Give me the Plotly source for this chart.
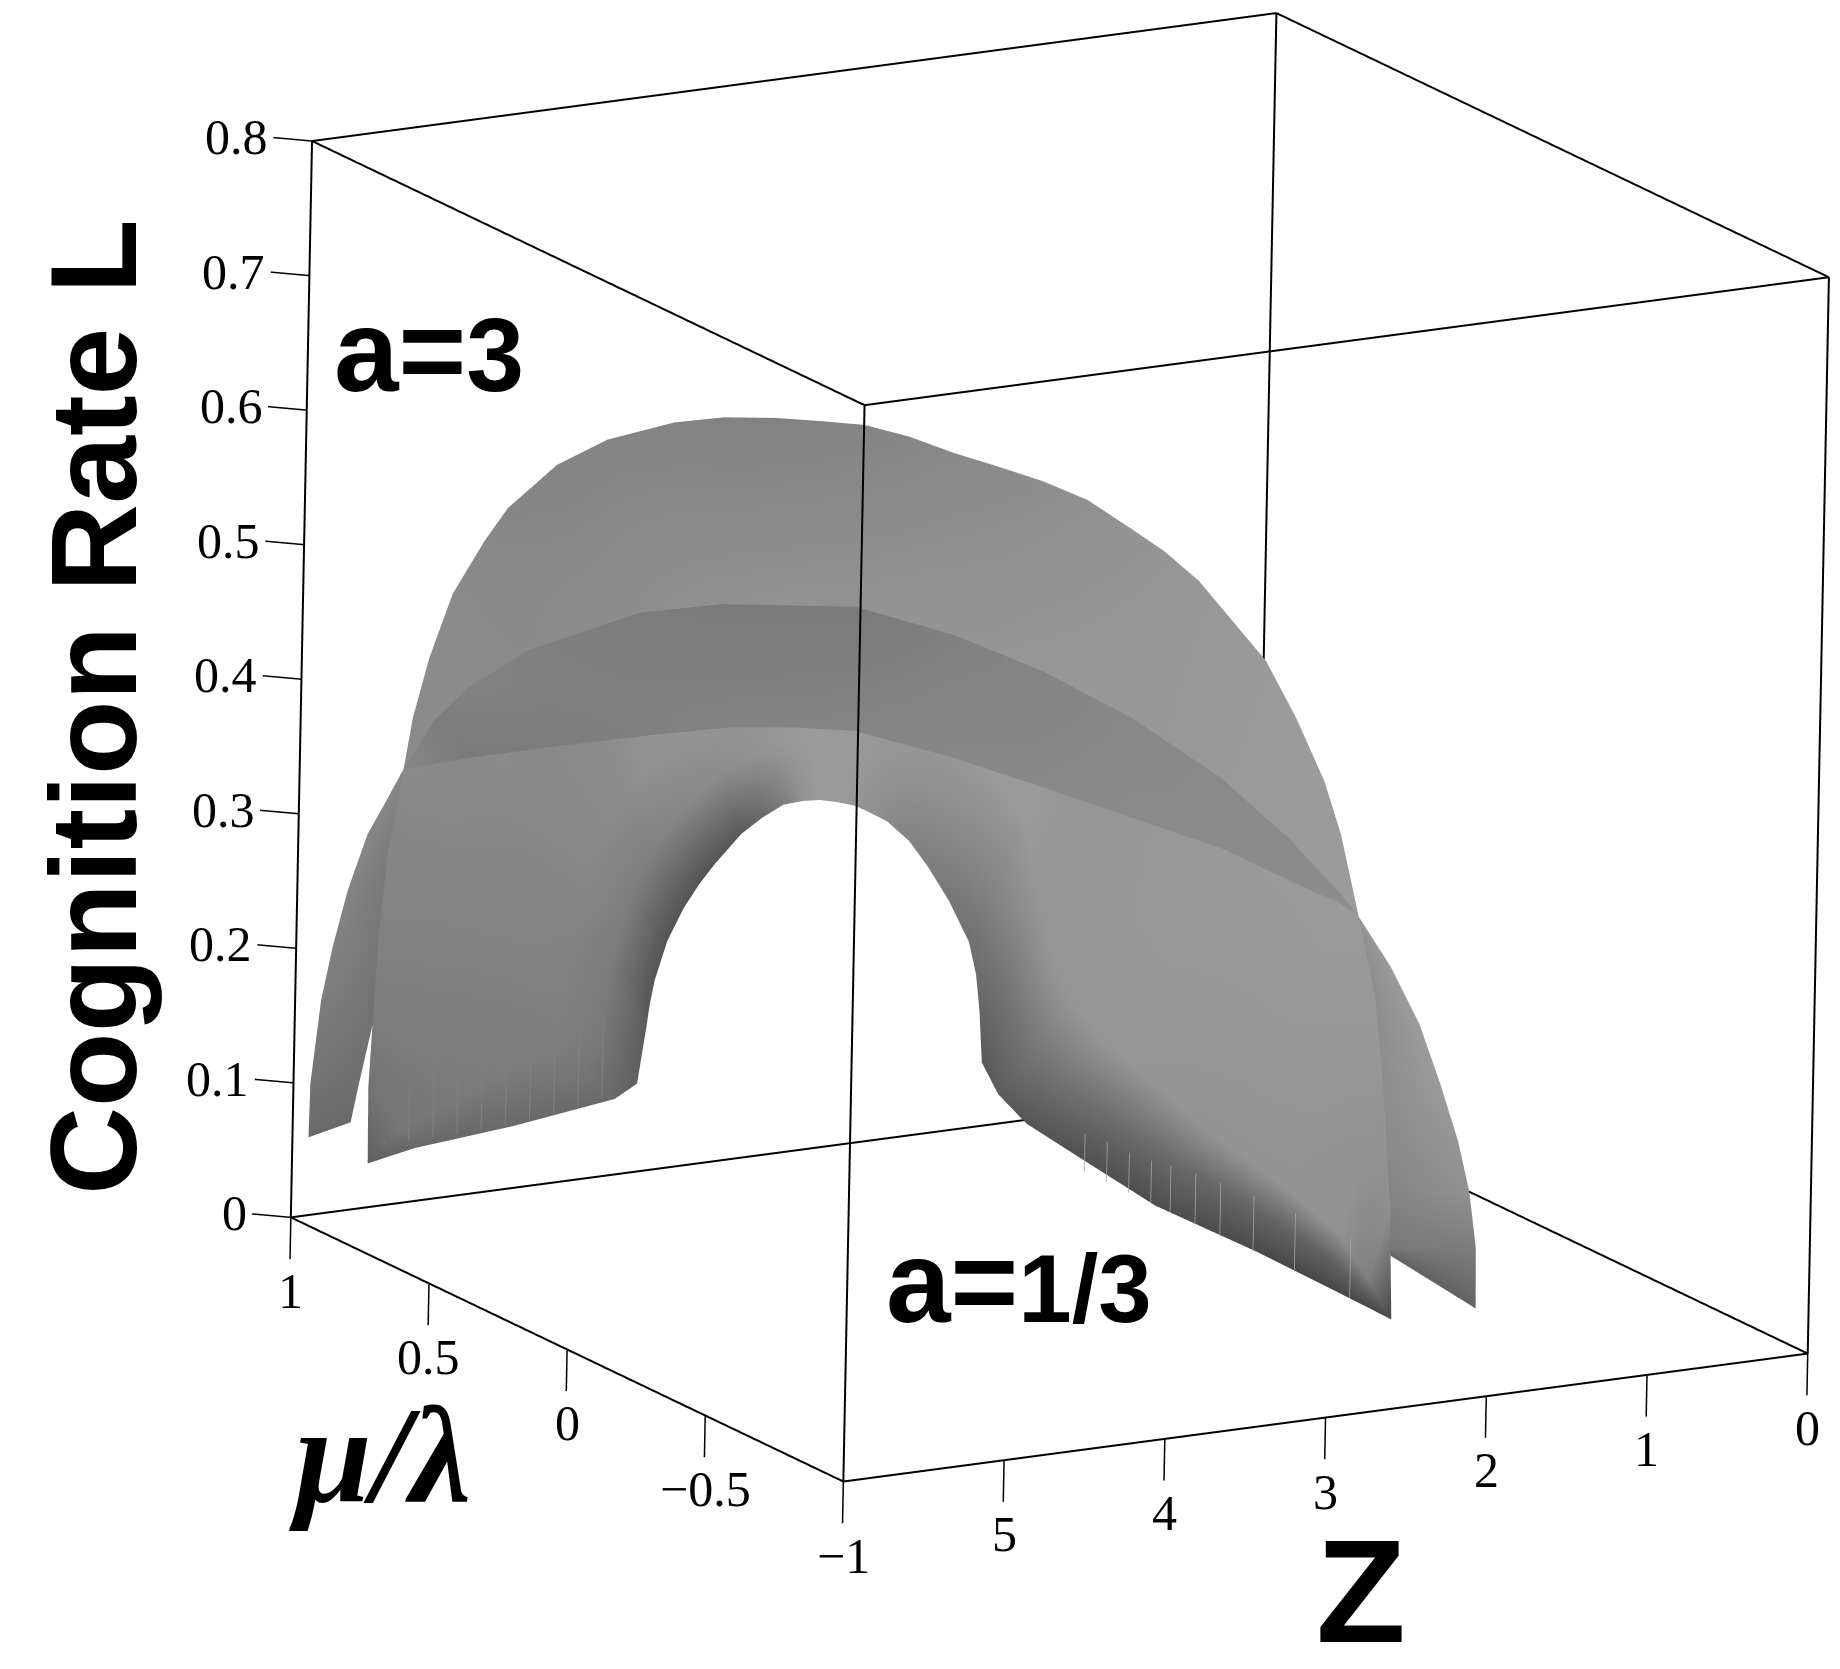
"""
plot.py
- Two cognition rate surfaces L(Z, mu/lambda) in a boxed 3D scene
"""
import plotly.graph_objects as go

# ---------- Axis ticks ----------
z_ticks = [0, 1, 2, 3, 4, 5]
mu_ticks = [-1, -0.5, 0, 0.5, 1]
mu_labels = ["\u22121", "\u22120.5", "0", "0.5", "1"]
l_ticks = [0, 0.1, 0.2, 0.3, 0.4, 0.5, 0.6, 0.7, 0.8]
l_labels = ["0", "0.1", "0.2", "0.3", "0.4", "0.5", "0.6", "0.7", "0.8"]

# ---------- Higher surface: outer rim, two inner bands and inner rim ----------
high_outer_z = [5.771, 5.811, 5.825, 5.834, 5.820, 5.787, 5.787, 5.727, 5.658, 5.536, 5.464, 5.266, 5.059, 4.748, 4.546, 4.328, 4.104, 3.910,
                3.718, 3.524, 3.332, 3.139, 2.945, 2.751, 2.630, 2.501, 2.390, 2.248, 2.190, 2.128, 2.106, 2.098, 2.083, 2.160, 2.275, 2.376]
high_outer_mu = [0.86, 0.84, 0.82, 0.80, 0.78, 0.75, 0.72, 0.70, 0.66, 0.62, 0.58, 0.52, 0.46, 0.40, 0.34, 0.28, 0.24, 0.20,
                 0.15, 0.10, 0.05, 0.00, -0.05, -0.10, -0.15, -0.20, -0.25, -0.30, -0.38, -0.45, -0.50, -0.55, -0.62, -0.70, -0.80, -0.87]
high_outer_l = [0.0502, 0.1094, 0.1639, 0.2278, 0.2915, 0.3541, 0.3956, 0.4408, 0.4915, 0.5327, 0.5599, 0.5949, 0.6162, 0.6299, 0.6364, 0.6384, 0.6363, 0.6344,
                0.6276, 0.6173, 0.6090, 0.6000, 0.5879, 0.5680, 0.5543, 0.5354, 0.5111, 0.4820, 0.4462, 0.4050, 0.3704, 0.3272, 0.2624, 0.2052, 0.1236, 0.0502]
high_outer_shade = [95, 115, 125, 130, 133, 138, 139, 140, 138, 136, 134, 132, 132, 131, 130, 130, 131, 132,
                    134, 137, 139, 141, 144, 147, 149, 151, 152, 153, 155, 155, 155, 155, 152, 150, 145, 72]

high_mid_z = [5.771, 5.533, 5.043, 4.608, 4.507, 4.498, 4.484, 4.447, 4.399, 4.293, 4.207, 4.082, 3.905, 3.721, 3.570, 3.422, 3.279, 3.144,
              3.008, 2.883, 2.778, 2.645, 2.515, 2.374, 2.271, 2.190, 2.156, 2.118, 2.141, 2.148, 2.228, 2.298, 2.275, 2.301, 2.346, 2.376]
high_mid_mu = [0.86, 0.882, 0.911, 0.905, 0.899, 0.869, 0.86, 0.854, 0.828, 0.816, 0.804, 0.786, 0.768, 0.75, 0.732, 0.714, 0.702, 0.69,
               0.675, 0.66, 0.631, 0.602, 0.58, 0.558, 0.529, 0.5575, 0.5375, 0.5175, 0.43, 0.3225, 0.085, -0.145, -0.425, -0.64, -0.77, -0.87]
high_mid_l = [0.0502, 0.0692, 0.0859, 0.1121, 0.1376, 0.1878, 0.2122, 0.2377, 0.2746, 0.3030, 0.3223, 0.3421, 0.3625, 0.3737, 0.3809, 0.3821, 0.3808, 0.3779,
              0.3727, 0.3649, 0.3588, 0.3459, 0.3284, 0.3041, 0.2789, 0.2367, 0.2116, 0.1756, 0.1562, 0.1388, 0.1306, 0.1195, 0.1032, 0.0885, 0.0689, 0.0502]
high_mid_shade = [95, 118, 122, 125, 128, 130, 132, 135, 137, 140, 145, 148, 150, 152, 152, 153, 153, 153,
                  153, 153, 153, 153, 154, 154, 154, 150, 150, 150, 150, 150, 149, 148, 148, 145, 125, 72]

high_near_z = [5.771, 5.474, 4.876, 4.345, 4.226, 4.222, 4.205, 4.173, 4.129, 4.027, 3.938, 3.829, 3.658, 3.501, 3.361, 3.228, 3.102, 2.980,
               2.856, 2.746, 2.659, 2.539, 2.423, 2.293, 2.194, 2.138, 2.117, 2.096, 2.133, 2.151, 2.248, 2.332, 2.307, 2.325, 2.358, 2.376]
high_near_mu = [0.86, 0.891, 0.931, 0.928, 0.925, 0.895, 0.89, 0.887, 0.864, 0.858, 0.852, 0.843, 0.834, 0.825, 0.816, 0.807, 0.801, 0.795,
                0.788, 0.78, 0.756, 0.731, 0.715, 0.699, 0.675, 0.684, 0.669, 0.654, 0.565, 0.451, 0.183, -0.078, -0.393, -0.63, -0.765, -0.87]
high_near_l = [0.0502, 0.0606, 0.0692, 0.0873, 0.1047, 0.1522, 0.1729, 0.1942, 0.2281, 0.2538, 0.2714, 0.2879, 0.3082, 0.3188, 0.3262, 0.3272, 0.3261, 0.3229,
               0.3181, 0.3108, 0.3052, 0.2915, 0.2728, 0.2476, 0.2199, 0.1869, 0.1617, 0.1245, 0.1079, 0.0944, 0.0906, 0.0849, 0.0767, 0.0691, 0.0598, 0.0502]
high_near_shade = [95, 110, 112, 118, 120, 122, 122, 125, 126, 128, 132, 135, 140, 145, 150, 153, 155, 155,
                   153, 150, 148, 145, 142, 138, 135, 130, 125, 118, 120, 115, 110, 105, 100, 98, 95, 72]

high_inner_z = [5.771, 5.414, 4.708, 4.082, 3.944, 3.945, 3.926, 3.899, 3.859, 3.760, 3.668, 3.575, 3.411, 3.281, 3.151, 3.034, 2.925, 2.815,
                2.704, 2.608, 2.540, 2.433, 2.330, 2.212, 2.117, 2.086, 2.078, 2.074, 2.124, 2.154, 2.268, 2.365, 2.339, 2.348, 2.370, 2.376]
high_inner_mu = [0.86, 0.90, 0.95, 0.95, 0.95, 0.92, 0.92, 0.92, 0.90, 0.90, 0.90, 0.90, 0.90, 0.90, 0.90, 0.90, 0.90, 0.90,
                 0.90, 0.90, 0.88, 0.86, 0.85, 0.84, 0.82, 0.81, 0.80, 0.79, 0.70, 0.58, 0.28, -0.01, -0.36, -0.62, -0.76, -0.87]
high_inner_l = [0.0502, 0.0519, 0.0524, 0.0625, 0.0717, 0.1165, 0.1336, 0.1507, 0.1816, 0.2045, 0.2204, 0.2337, 0.2538, 0.2639, 0.2714, 0.2723, 0.2713, 0.2679,
                0.2635, 0.2567, 0.2515, 0.2370, 0.2172, 0.1910, 0.1609, 0.1371, 0.1117, 0.0734, 0.0595, 0.0500, 0.0506, 0.0502, 0.0501, 0.0496, 0.0506, 0.0502]
high_inner_shade = [95, 105, 105, 105, 95, 92, 88, 85, 85, 85, 85, 85, 90, 105, 125, 145, 155, 155,
                    150, 145, 138, 130, 125, 118, 112, 108, 100, 90, 92, 85, 80, 78, 74, 72, 72, 72]

# ---------- Lower surface: upper rim and lower rim ----------
low_upper_z = [5.952, 5.947, 5.925, 5.860, 5.773, 5.655, 5.641, 5.787, 5.864, 5.743, 5.628, 5.198, 4.868, 4.207,
               3.763, 3.376, 2.988, 2.651, 2.435, 2.360, 2.126, 1.605, 1.419, 1.367, 1.337, 1.348, 1.301, 1.555]
low_upper_mu = [0.97, 0.97, 0.95, 0.95, 0.95, 0.95, 0.90, 0.75, 0.60, 0.55, 0.40, 0.25, 0.15, 0.05,
                -0.05, -0.15, -0.25, -0.38, -0.50, -0.65, -0.58, -0.40, -0.40, -0.45, -0.50, -0.55, -0.55, -0.70]
low_upper_l = [0.0617, 0.1015, 0.1649, 0.2034, 0.2441, 0.2844, 0.3112, 0.3544, 0.4061, 0.4339, 0.4748, 0.5104, 0.5213, 0.5187,
               0.5006, 0.4772, 0.4461, 0.4090, 0.3730, 0.3446, 0.3175, 0.2541, 0.2085, 0.1677, 0.1299, 0.0975, 0.0549, 0.0287]
low_upper_shade = [105, 115, 125, 130, 132, 135, 135, 135, 125, 130, 128, 124, 122, 122,
                   128, 132, 136, 138, 138, 140, 145, 155, 155, 155, 150, 145, 125, 100]

low_lower_z = [5.691, 5.644, 5.565, 5.543, 5.521, 5.476, 5.508, 5.787, 5.632, 5.238, 4.878, 4.628, 4.385, 4.192,
               3.748, 3.362, 2.976, 2.642, 2.290, 2.374, 2.126, 1.763, 1.712, 1.755, 1.813, 1.879, 1.850, 1.827]
low_lower_mu = [0.97, 0.97, 0.95, 0.95, 0.95, 0.95, 0.90, 0.75, 0.60, 0.55, 0.40, 0.25, 0.15, 0.05,
                -0.05, -0.15, -0.25, -0.38, -0.50, -0.65, -0.58, -0.40, -0.40, -0.45, -0.50, -0.55, -0.55, -0.55]
low_lower_l = [0.0687, 0.0967, 0.1610, 0.2042, 0.2474, 0.2860, 0.3131, 0.3544, 0.3750, 0.3815, 0.3993, 0.4160, 0.4220, 0.4261,
               0.4089, 0.3908, 0.3718, 0.3566, 0.3315, 0.3387, 0.3175, 0.2566, 0.2131, 0.1743, 0.1374, 0.1059, 0.0636, 0.0572]
low_lower_shade = [105, 110, 115, 118, 120, 125, 130, 135, 122, 124, 128, 130, 131, 132,
                   135, 136, 138, 138, 140, 142, 145, 140, 140, 140, 138, 132, 120, 95]

# light slits in the sampled foot on the right of the higher surface
slit_z = 2.447
slit_mu = [-0.76, -0.56, -0.41, -0.29, -0.20, -0.11, -0.04, 0.04, 0.12, 0.20]
slit_l_low = 0.0563
slit_l_high = [0.102, 0.100, 0.098, 0.096, 0.094, 0.091, 0.088, 0.086, 0.086, 0.084]

# finer stripes in the foot on its left
stripe_mu = 0.87
stripe_z = [5.65, 5.50, 5.35, 5.20, 5.05, 4.90, 4.75, 4.60, 4.45, 4.30]
stripe_l_low = [0.062, 0.062, 0.062, 0.062, 0.062, 0.064, 0.066, 0.068, 0.070, 0.074]
stripe_l_high = [0.120, 0.122, 0.124, 0.126, 0.128, 0.128, 0.130, 0.130, 0.132, 0.132]

Z_MIN, Z_MAX = 0, 6
MU_MIN, MU_MAX = -1, 1
L_MIN, L_MAX = 0, 0.8

GRAY = [[0, "rgb(0,0,0)"], [1, "rgb(255,255,255)"]]
FLAT = dict(ambient=1, diffuse=0, specular=0, fresnel=0, roughness=1)
TICK_FONT = dict(family="Liberation Serif", size=50, color="black")
LABEL_FONT = "Liberation Sans"


def _surface(z_rows, mu_rows, l_rows, shade_rows):
    return go.Surface(
        x=z_rows, y=mu_rows, z=l_rows,
        surfacecolor=shade_rows,
        colorscale=GRAY, cmin=0, cmax=255,
        showscale=False, lighting=FLAT, hoverinfo="skip",
    )


def _segments(pairs, width, color="black"):
    """Line trace out of ((z, mu, l), (z, mu, l)) pairs."""
    xs, ys, zs = [], [], []
    for a, b in pairs:
        xs += [a[0], b[0], None]
        ys += [a[1], b[1], None]
        zs += [a[2], b[2], None]
    return go.Scatter3d(x=xs, y=ys, z=zs, mode="lines", hoverinfo="skip",
                        line=dict(color=color, width=width))


def _hidden_axis(axis_range):
    return dict(range=axis_range, visible=False, showspikes=False)


def _tick_label(text, x, y, z, xshift=0, yshift=-74, xanchor="center"):
    return dict(text=text, x=x, y=y, z=z, showarrow=False, font=TICK_FONT,
                xshift=xshift, yshift=yshift, xanchor=xanchor, yanchor="middle")


def _label(text, x, y, size, angle=0, family=LABEL_FONT):
    return dict(
        text=f"<b>{text}</b>",
        xref="paper", yref="paper", x=x / 1840, y=1 - y / 1669,
        xanchor="center", yanchor="middle", showarrow=False, textangle=angle,
        font=dict(family=family, size=size, color="black"),
    )


# box edges
box_edges = []
for mu in (MU_MIN, MU_MAX):
    for l in (L_MIN, L_MAX):
        box_edges.append(((Z_MIN, mu, l), (Z_MAX, mu, l)))
for z in (Z_MIN, Z_MAX):
    for l in (L_MIN, L_MAX):
        box_edges.append(((z, MU_MIN, l), (z, MU_MAX, l)))
    for mu in (MU_MIN, MU_MAX):
        box_edges.append(((z, mu, L_MIN), (z, mu, L_MAX)))

# tick marks hang straight down from the floor edges, L ticks point left
tick_marks = []
for v in z_ticks:
    tick_marks.append(((v, MU_MIN, L_MIN), (v, MU_MIN, L_MIN - 0.031)))
for v in mu_ticks:
    tick_marks.append(((Z_MAX, v, L_MIN), (Z_MAX, v, L_MIN - 0.031)))
for v in l_ticks:
    tick_marks.append(((Z_MAX, MU_MAX, v), (Z_MAX + 0.153, MU_MAX + 0.051, v)))

slits = [((slit_z, m, slit_l_low), (slit_z, m, top)) for m, top in zip(slit_mu, slit_l_high)]
stripes = [((z, stripe_mu, low), (z, stripe_mu, top))
           for z, low, top in zip(stripe_z, stripe_l_low, stripe_l_high)]

scene_labels = []
for v in z_ticks:
    scene_labels.append(_tick_label(str(v), v, MU_MIN, L_MIN))
for v, text in zip(mu_ticks, mu_labels):
    scene_labels.append(_tick_label(text, Z_MAX, v, L_MIN))
for v, text in zip(l_ticks, l_labels):
    scene_labels.append(_tick_label(text, Z_MAX, MU_MAX, v, xshift=-42, yshift=4, xanchor="right"))

fig = go.Figure()
fig.add_trace(_surface(
    [high_outer_z, high_mid_z, high_near_z, high_inner_z],
    [high_outer_mu, high_mid_mu, high_near_mu, high_inner_mu],
    [high_outer_l, high_mid_l, high_near_l, high_inner_l],
    [high_outer_shade, high_mid_shade, high_near_shade, high_inner_shade],
))
fig.add_trace(_surface(
    [low_upper_z, low_lower_z],
    [low_upper_mu, low_lower_mu],
    [low_upper_l, low_lower_l],
    [low_upper_shade, low_lower_shade],
))
fig.add_trace(_segments(box_edges, 4))
fig.add_trace(_segments(tick_marks, 3))
fig.add_trace(_segments(slits, 1.5, color="rgb(165,165,165)"))
fig.add_trace(_segments(stripes, 2, color="rgb(128,128,128)"))

fig.update_layout(
    width=1840, height=1669,
    margin=dict(l=0, r=0, t=0, b=0),
    paper_bgcolor="white",
    showlegend=False,
    scene=dict(
        domain=dict(x=[0, 1], y=[0, 1]),
        # ranges run a little past the box so the tick marks are not clipped
        xaxis=_hidden_axis([6.3, -0.1]),
        yaxis=_hidden_axis([-1.1, 1.1]),
        zaxis=_hidden_axis([-0.04, 0.84]),
        aspectmode="manual",
        aspectratio=dict(x=1.421, y=1.465, z=1.471),
        camera=dict(
            projection=dict(type="orthographic"),
            center=dict(x=-0.1332, y=0.0425, z=-0.1102),
            eye=dict(x=-1.5852, y=-2.461, z=0.680),
            up=dict(x=0.115, y=0.2375, z=0.9646),
        ),
        annotations=scene_labels,
    ),
    annotations=[
        _label("Cognition Rate L", 86, 699, 122, angle=-90),
        _label("a=<span style='font-size:104px'>3</span>", 421, 343, 116),
        _label("a=<span style='font-size:96px'>1/3</span>", 1011, 1274, 116),
        _label("Z", 1353, 1583, 147),
        _label("<i>\u03bc/\u03bb</i>", 372, 1447, 138, family="Liberation Serif"),
    ],
)

fig.write_html("out.html")
